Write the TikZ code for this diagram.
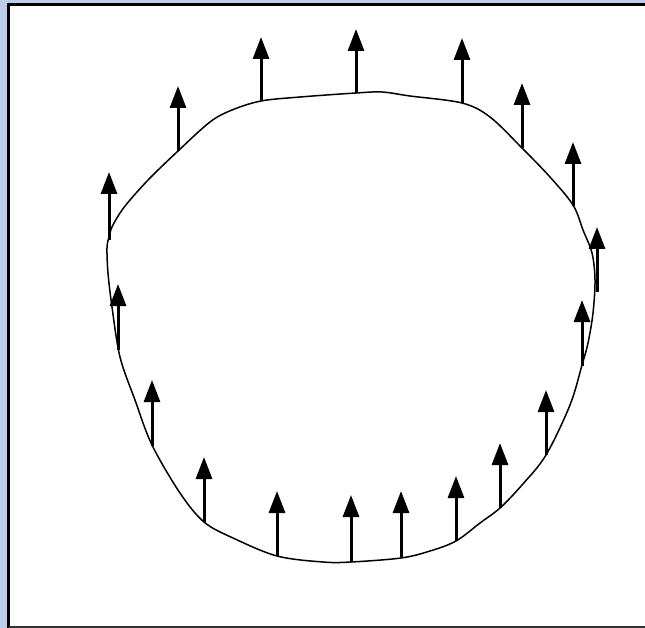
\documentclass[tikz,border=0pt]{standalone}
\usetikzlibrary{arrows.meta}
\definecolor{bgblue}{RGB}{188,204,236}
\begin{document}
\begin{tikzpicture}[x=1pt,y=-1pt,
  vec/.style={line width=3pt,-{Triangle[length=22pt,width=16pt]}},
  outline/.style={line width=1.5pt,line join=round}]
\useasboundingbox (0,0) rectangle (645,628);
\fill[bgblue] (0,0) rectangle (645,628);
\fill[white] (8.5,4.5) rectangle (645,626);
\draw[line width=3pt] (8.5,628) -- (8.5,4.5) -- (645,4.5);
\draw[line width=2pt,black!80] (8.5,626.5) -- (645,626.5);
% closed contour
\draw[outline] plot[smooth cycle,tension=0.55] coordinates {
 (107,248) (109,237) (112,227) (120,213) (130,200) (150,178) (178,151)
 (210,122) (232,110) (261,101) (300,97) (356,93) (382,92) (410,96) (462,103)
 (490,117) (522,148) (550,177) (573,205) (583,230) (592,253) (595,280)
 (593,313) (588,343) (582,365) (570,405) (546,455) (522,485) (500,508)
 (480,523) (456,541) (430,551) (401,558) (351,562) (323,562) (277,556)
 (233,538) (204,522) (180,493) (152,445) (135,400) (120,357) (112,307)
 (108,273)};
% vectors
\foreach \x/\b/\t in {109/240/172, 118/350/284, 152/446/380, 204/522/457,
  277/556/491, 351/562/495, 401/557/491, 456/541/476, 500/508/443,
  546/455/390, 582/366/300, 597/292/227, 573/206/142, 522/148/83,
  462/103/38, 356/93/29, 261/101/37, 178/151/86}
  \draw[vec] (\x,\b) -- (\x,\t);
\end{tikzpicture}
\end{document}
